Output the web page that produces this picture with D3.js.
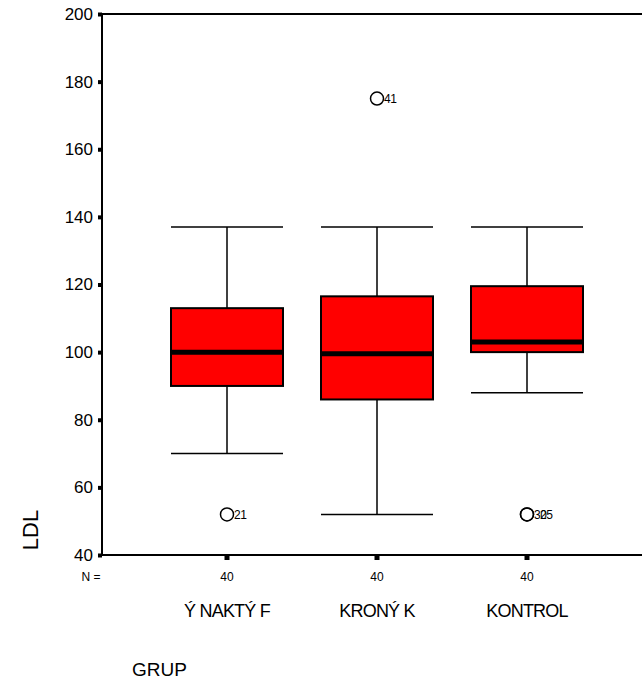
<!DOCTYPE html>
<html lang="en">
<head>
    <meta charset="UTF-8">
    <title>LDL by GRUP</title>
    <script src="https://cdn.jsdelivr.net/npm/d3@7"></script>
    <style>
        body{ margin:0; background:#fff; }
        text{ font-family: "Liberation Sans", Arial, sans-serif; fill:#000; }
    </style>
</head>
<body>
<script type="text/javascript">

    // groups and their box statistics
    let groups = ["ÝNAKTÝF", "KRONÝK", "KONTROL"];
    let groupLabels = ["Ý NAKTÝ F", "KRONÝ K", "KONTROL"];
    let counts = [40, 40, 40];
    let whiskerLow = [70, 52, 88];
    let q1 = [90, 86, 100];
    let median = [100, 99.5, 103];
    let q3 = [113, 116.5, 119.5];
    let whiskerHigh = [137, 137, 137];

    // outliers: group, value, case label
    let outlierGroup = ["ÝNAKTÝF", "KRONÝK", "KONTROL", "KONTROL"];
    let outlierValue = [52, 175, 52, 52];
    let outlierCase = ["21", "41", "30", "25"];

    let yTicks = [40, 60, 80, 100, 120, 140, 160, 180, 200];

    let width = 642, height = 684;
    let plotLeft = 102, plotTop = 14, plotBottom = 555;

    let svg = d3.select("body").append("svg")
        .attr("width", width)
        .attr("height", height);

    let x = d3.scalePoint()
        .domain(groups)
        .range([plotLeft, 652])
        .padding(5 / 6);

    let y = d3.scaleLinear()
        .domain([40, 200])
        .range([plotBottom, plotTop]);

    let boxW = 112;

    let boxes = groups.map((g, i) => ({
        g: g, lo: whiskerLow[i], q1: q1[i], med: median[i], q3: q3[i], hi: whiskerHigh[i]
    }));

    let plot = svg.append("g");

    // whisker stems
    plot.selectAll(".stem").data(boxes).enter().append("line")
        .attr("x1", d => x(d.g)).attr("x2", d => x(d.g))
        .attr("y1", d => y(d.hi)).attr("y2", d => y(d.lo))
        .attr("stroke", "#000").attr("stroke-width", 1.5);

    // whisker caps
    ["lo", "hi"].forEach(k => {
        plot.selectAll(".cap-" + k).data(boxes).enter().append("line")
            .attr("x1", d => x(d.g) - boxW / 2).attr("x2", d => x(d.g) + boxW / 2)
            .attr("y1", d => y(d[k])).attr("y2", d => y(d[k]))
            .attr("stroke", "#000").attr("stroke-width", 1.5);
    });

    // boxes
    plot.selectAll(".box").data(boxes).enter().append("rect")
        .attr("x", d => x(d.g) - boxW / 2)
        .attr("width", boxW)
        .attr("y", d => y(d.q3))
        .attr("height", d => y(d.q1) - y(d.q3))
        .attr("fill", "#ff0000")
        .attr("stroke", "#000")
        .attr("stroke-width", 2);

    // medians
    plot.selectAll(".med").data(boxes).enter().append("line")
        .attr("x1", d => x(d.g) - boxW / 2).attr("x2", d => x(d.g) + boxW / 2)
        .attr("y1", d => y(d.med)).attr("y2", d => y(d.med))
        .attr("stroke", "#000").attr("stroke-width", 5);

    // outliers
    let outliers = outlierGroup.map((g, i) => ({ g: g, v: outlierValue[i], c: outlierCase[i] }));
    plot.selectAll(".out").data(outliers).enter().append("circle")
        .attr("cx", d => x(d.g))
        .attr("cy", d => y(d.v))
        .attr("r", 6.5)
        .attr("fill", "none")
        .attr("stroke", "#000")
        .attr("stroke-width", 1.5);
    // same-value labels get nudged one digit apart
    let seen = {};
    plot.selectAll(".outlab").data(outliers).enter().append("text")
        .attr("x", d => {
            let key = d.g + d.v;
            let n = seen[key] || 0;
            seen[key] = n + 1;
            return x(d.g) + 7 + n * 6;
        })
        .attr("y", d => y(d.v) + 4.5)
        .attr("font-size", 12)
        .style("letter-spacing", "-0.5px")
        .text(d => d.c);

    // frame: left axis, bottom axis, top line
    svg.append("line").attr("x1", plotLeft).attr("x2", plotLeft).attr("y1", plotTop).attr("y2", plotBottom)
        .attr("stroke", "#000").attr("stroke-width", 2);
    svg.append("line").attr("x1", plotLeft).attr("x2", width).attr("y1", plotBottom).attr("y2", plotBottom)
        .attr("stroke", "#000").attr("stroke-width", 2);
    svg.append("line").attr("x1", plotLeft).attr("x2", width).attr("y1", plotTop).attr("y2", plotTop)
        .attr("stroke", "#000").attr("stroke-width", 2);

    // y axis ticks and labels
    let yAxis = d3.axisLeft(y).tickValues(yTicks).tickSize(0).tickPadding(9);
    let yg = svg.append("g").attr("transform", `translate(${plotLeft},0)`).call(yAxis);
    yg.select(".domain").remove();
    yg.selectAll("text").attr("font-size", 17).attr("font-family", "Liberation Sans, Arial, sans-serif");
    yg.selectAll(".tick").append("rect")
        .attr("x", -4).attr("y", -2).attr("width", 4).attr("height", 4).attr("fill", "#000");

    // x tick squares
    svg.selectAll(".xtick").data(groups).enter().append("rect")
        .attr("x", d => x(d) - 2.5).attr("y", plotBottom + 1).attr("width", 5).attr("height", 4)
        .attr("fill", "#000");

    // N = counts
    svg.append("text").attr("x", 91).attr("y", 581).attr("text-anchor", "middle")
        .attr("font-size", 12).text("N =");
    svg.selectAll(".count").data(groups).enter().append("text")
        .attr("x", d => x(d)).attr("y", 581).attr("text-anchor", "middle")
        .attr("font-size", 12).text((d, i) => counts[i]);

    // category labels
    svg.selectAll(".cat").data(groups).enter().append("text")
        .attr("x", d => x(d)).attr("y", 617).attr("text-anchor", "middle")
        .attr("font-size", 18)
        .style("letter-spacing", "-0.8px")
        .text((d, i) => groupLabels[i]);

    // axis titles
    svg.append("text").attr("x", 132).attr("y", 676).attr("font-size", 19).text("GRUP");
    svg.append("text")
        .attr("transform", "translate(38,530) rotate(-90)")
        .attr("text-anchor", "middle")
        .attr("font-size", 22)
        .text("LDL");
</script>
</body>
</html>
